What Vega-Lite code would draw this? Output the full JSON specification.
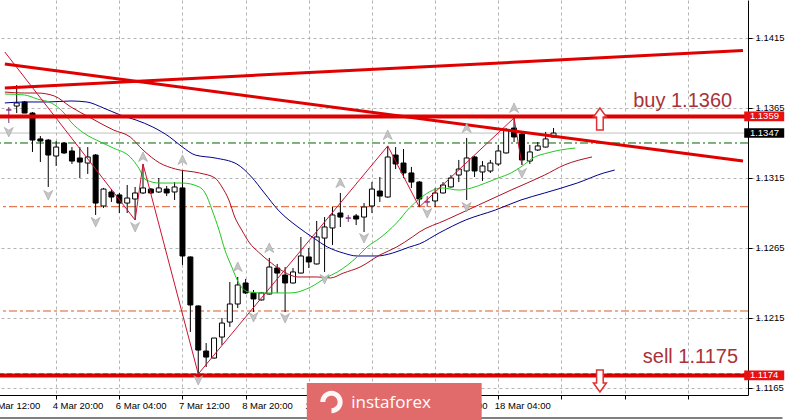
{
  "$schema": "https://vega.github.io/schema/vega-lite/v6.json",
  "width": 748,
  "height": 395,
  "autosize": {"type": "none"},
  "padding": {"left": 0, "top": 0, "right": 40, "bottom": 25},
  "background": "white",
  "config": {
    "view": {"stroke": null},
    "axis": {"labelFont": "Liberation Sans", "labelFontSize": 9.5, "labelColor": "black", "domainColor": "black", "tickColor": "black", "gridColor": "#b4b4b4", "gridDash": [3, 3], "gridWidth": 1}
  },
  "resolve": {"scale": {"shape": "independent"}},
  "datasets": {
    "candles": [
      {"i": -6, "o": 1.13636, "h": 1.13657, "l": 1.13543, "c": 1.13636},
      {"i": -5, "o": 1.13664, "h": 1.13814, "l": 1.13614, "c": 1.13686},
      {"i": -4, "o": 1.13693, "h": 1.13700, "l": 1.13614, "c": 1.13614},
      {"i": -3, "o": 1.13614, "h": 1.13621, "l": 1.13336, "c": 1.13421},
      {"i": -2, "o": 1.13429, "h": 1.13450, "l": 1.13264, "c": 1.13414},
      {"i": -1, "o": 1.13421, "h": 1.13428, "l": 1.13086, "c": 1.13314},
      {"i": 0, "o": 1.13307, "h": 1.13414, "l": 1.13236, "c": 1.13371},
      {"i": 1, "o": 1.13400, "h": 1.13407, "l": 1.13321, "c": 1.13329},
      {"i": 2, "o": 1.13343, "h": 1.13371, "l": 1.13250, "c": 1.13271},
      {"i": 3, "o": 1.13293, "h": 1.13371, "l": 1.13150, "c": 1.13264},
      {"i": 4, "o": 1.13257, "h": 1.13371, "l": 1.13179, "c": 1.13300},
      {"i": 5, "o": 1.13314, "h": 1.13321, "l": 1.12886, "c": 1.12971},
      {"i": 6, "o": 1.12950, "h": 1.13079, "l": 1.12936, "c": 1.13071},
      {"i": 7, "o": 1.13050, "h": 1.13071, "l": 1.12979, "c": 1.13014},
      {"i": 8, "o": 1.13029, "h": 1.13043, "l": 1.12900, "c": 1.12971},
      {"i": 9, "o": 1.12971, "h": 1.13100, "l": 1.12900, "c": 1.13007},
      {"i": 10, "o": 1.13000, "h": 1.13086, "l": 1.12850, "c": 1.13043},
      {"i": 11, "o": 1.13043, "h": 1.13250, "l": 1.13036, "c": 1.13079},
      {"i": 12, "o": 1.13071, "h": 1.13079, "l": 1.13036, "c": 1.13043},
      {"i": 13, "o": 1.13050, "h": 1.13150, "l": 1.13043, "c": 1.13079},
      {"i": 14, "o": 1.13071, "h": 1.13093, "l": 1.13021, "c": 1.13043},
      {"i": 15, "o": 1.13050, "h": 1.13121, "l": 1.12993, "c": 1.13086},
      {"i": 16, "o": 1.13079, "h": 1.13207, "l": 1.12529, "c": 1.12593},
      {"i": 17, "o": 1.12586, "h": 1.12590, "l": 1.12050, "c": 1.12243},
      {"i": 18, "o": 1.12236, "h": 1.12240, "l": 1.11750, "c": 1.11921},
      {"i": 19, "o": 1.11914, "h": 1.11971, "l": 1.11800, "c": 1.11871},
      {"i": 20, "o": 1.11864, "h": 1.12007, "l": 1.11860, "c": 1.12007},
      {"i": 21, "o": 1.12014, "h": 1.12150, "l": 1.11957, "c": 1.12114},
      {"i": 22, "o": 1.12121, "h": 1.12407, "l": 1.12086, "c": 1.12250},
      {"i": 23, "o": 1.12250, "h": 1.12443, "l": 1.12221, "c": 1.12386},
      {"i": 24, "o": 1.12400, "h": 1.12429, "l": 1.12321, "c": 1.12329},
      {"i": 25, "o": 1.12329, "h": 1.12350, "l": 1.12193, "c": 1.12286},
      {"i": 26, "o": 1.12279, "h": 1.12336, "l": 1.12275, "c": 1.12329},
      {"i": 27, "o": 1.12321, "h": 1.12579, "l": 1.12318, "c": 1.12514},
      {"i": 28, "o": 1.12507, "h": 1.12536, "l": 1.12329, "c": 1.12471},
      {"i": 29, "o": 1.12457, "h": 1.12514, "l": 1.12193, "c": 1.12400},
      {"i": 30, "o": 1.12400, "h": 1.12507, "l": 1.12396, "c": 1.12479},
      {"i": 31, "o": 1.12471, "h": 1.12729, "l": 1.12468, "c": 1.12593},
      {"i": 32, "o": 1.12586, "h": 1.12650, "l": 1.12507, "c": 1.12550},
      {"i": 33, "o": 1.12536, "h": 1.12843, "l": 1.12532, "c": 1.12729},
      {"i": 34, "o": 1.12721, "h": 1.12871, "l": 1.12479, "c": 1.12800},
      {"i": 35, "o": 1.12793, "h": 1.12943, "l": 1.12671, "c": 1.12886},
      {"i": 36, "o": 1.12900, "h": 1.13043, "l": 1.12800, "c": 1.12871},
      {"i": 37, "o": 1.12864, "h": 1.12886, "l": 1.12836, "c": 1.12864},
      {"i": 38, "o": 1.12879, "h": 1.12893, "l": 1.12814, "c": 1.12857},
      {"i": 39, "o": 1.12871, "h": 1.12971, "l": 1.12764, "c": 1.12943},
      {"i": 40, "o": 1.12950, "h": 1.13121, "l": 1.12900, "c": 1.13071},
      {"i": 41, "o": 1.13057, "h": 1.13157, "l": 1.12979, "c": 1.13021},
      {"i": 42, "o": 1.13014, "h": 1.13379, "l": 1.13010, "c": 1.13300},
      {"i": 43, "o": 1.13314, "h": 1.13371, "l": 1.13214, "c": 1.13250},
      {"i": 44, "o": 1.13257, "h": 1.13357, "l": 1.13150, "c": 1.13186},
      {"i": 45, "o": 1.13186, "h": 1.13229, "l": 1.13079, "c": 1.13121},
      {"i": 46, "o": 1.13121, "h": 1.13129, "l": 1.12943, "c": 1.13000},
      {"i": 47, "o": 1.12979, "h": 1.13021, "l": 1.12943, "c": 1.12979},
      {"i": 48, "o": 1.12986, "h": 1.13079, "l": 1.12943, "c": 1.13043},
      {"i": 49, "o": 1.13043, "h": 1.13121, "l": 1.13040, "c": 1.13100},
      {"i": 50, "o": 1.13086, "h": 1.13171, "l": 1.13082, "c": 1.13150},
      {"i": 51, "o": 1.13171, "h": 1.13279, "l": 1.13121, "c": 1.13214},
      {"i": 52, "o": 1.13200, "h": 1.13436, "l": 1.12993, "c": 1.13293},
      {"i": 53, "o": 1.13300, "h": 1.13307, "l": 1.13157, "c": 1.13200},
      {"i": 54, "o": 1.13193, "h": 1.13271, "l": 1.13129, "c": 1.13236},
      {"i": 55, "o": 1.13200, "h": 1.13279, "l": 1.13186, "c": 1.13257},
      {"i": 56, "o": 1.13250, "h": 1.13386, "l": 1.13236, "c": 1.13343},
      {"i": 57, "o": 1.13329, "h": 1.13507, "l": 1.13325, "c": 1.13493},
      {"i": 58, "o": 1.13507, "h": 1.13579, "l": 1.13407, "c": 1.13443},
      {"i": 59, "o": 1.13464, "h": 1.13479, "l": 1.13243, "c": 1.13279},
      {"i": 60, "o": 1.13271, "h": 1.13386, "l": 1.13250, "c": 1.13336},
      {"i": 61, "o": 1.13350, "h": 1.13407, "l": 1.13343, "c": 1.13379},
      {"i": 62, "o": 1.13371, "h": 1.13479, "l": 1.13368, "c": 1.13429},
      {"i": 63, "o": 1.13443, "h": 1.13507, "l": 1.13440, "c": 1.13471}
    ],
    "ma": [
      {"s": "slow", "i": -6.5, "p": 1.13686}, {"s": "slow", "i": -4, "p": 1.13693}, {"s": "slow", "i": -1.125, "p": 1.13693}, {"s": "slow", "i": 1.875, "p": 1.13700}, {"s": "slow", "i": 3.875, "p": 1.13693}, {"s": "slow", "i": 6, "p": 1.13650}, {"s": "slow", "i": 8.125, "p": 1.13600}, {"s": "slow", "i": 10.125, "p": 1.13564}, {"s": "slow", "i": 12.25, "p": 1.13514}, {"s": "slow", "i": 14.375, "p": 1.13443}, {"s": "slow", "i": 16, "p": 1.13371}, {"s": "slow", "i": 17.625, "p": 1.13314}, {"s": "slow", "i": 20.125, "p": 1.13293}, {"s": "slow", "i": 22.875, "p": 1.13250}, {"s": "slow", "i": 24.75, "p": 1.13157}, {"s": "slow", "i": 26.375, "p": 1.13043}, {"s": "slow", "i": 28.125, "p": 1.12921}, {"s": "slow", "i": 30.625, "p": 1.12800}, {"s": "slow", "i": 32.625, "p": 1.12721}, {"s": "slow", "i": 34.375, "p": 1.12657}, {"s": "slow", "i": 36.375, "p": 1.12614}, {"s": "slow", "i": 38.125, "p": 1.12593}, {"s": "slow", "i": 40.625, "p": 1.12593}, {"s": "slow", "i": 42.625, "p": 1.12614}, {"s": "slow", "i": 44.75, "p": 1.12657}, {"s": "slow", "i": 46, "p": 1.12679}, {"s": "slow", "i": 48.5, "p": 1.12757}, {"s": "slow", "i": 51.875, "p": 1.12850}, {"s": "slow", "i": 55.625, "p": 1.12921}, {"s": "slow", "i": 58.875, "p": 1.12993}, {"s": "slow", "i": 61.875, "p": 1.13043}, {"s": "slow", "i": 66, "p": 1.13114}, {"s": "slow", "i": 69.375, "p": 1.13186}, {"s": "slow", "i": 70.75, "p": 1.13207},
      {"s": "mid", "i": -6.5, "p": 1.13764}, {"s": "mid", "i": -4, "p": 1.13757}, {"s": "mid", "i": -2.375, "p": 1.13757}, {"s": "mid", "i": -0.25, "p": 1.13736}, {"s": "mid", "i": 1.875, "p": 1.13657}, {"s": "mid", "i": 4.375, "p": 1.13579}, {"s": "mid", "i": 7.25, "p": 1.13493}, {"s": "mid", "i": 9.375, "p": 1.13443}, {"s": "mid", "i": 11, "p": 1.13350}, {"s": "mid", "i": 13.125, "p": 1.13257}, {"s": "mid", "i": 15.125, "p": 1.13214}, {"s": "mid", "i": 18.125, "p": 1.13186}, {"s": "mid", "i": 20.125, "p": 1.13150}, {"s": "mid", "i": 21, "p": 1.13086}, {"s": "mid", "i": 21.875, "p": 1.12993}, {"s": "mid", "i": 22.625, "p": 1.12871}, {"s": "mid", "i": 23.5, "p": 1.12779}, {"s": "mid", "i": 24.5, "p": 1.12686}, {"s": "mid", "i": 25.625, "p": 1.12621}, {"s": "mid", "i": 27.25, "p": 1.12543}, {"s": "mid", "i": 28.875, "p": 1.12479}, {"s": "mid", "i": 30.625, "p": 1.12443}, {"s": "mid", "i": 33.125, "p": 1.12443}, {"s": "mid", "i": 34.75, "p": 1.12436}, {"s": "mid", "i": 36.375, "p": 1.12471}, {"s": "mid", "i": 38.5, "p": 1.12514}, {"s": "mid", "i": 41, "p": 1.12600}, {"s": "mid", "i": 43.125, "p": 1.12657}, {"s": "mid", "i": 45.125, "p": 1.12729}, {"s": "mid", "i": 46, "p": 1.12764}, {"s": "mid", "i": 49.375, "p": 1.12850}, {"s": "mid", "i": 53.5, "p": 1.12957}, {"s": "mid", "i": 57.625, "p": 1.13064}, {"s": "mid", "i": 61.875, "p": 1.13171}, {"s": "mid", "i": 64.375, "p": 1.13243}, {"s": "mid", "i": 67.875, "p": 1.13300},
      {"s": "fast", "i": -6.5, "p": 1.13750}, {"s": "fast", "i": -4, "p": 1.13743}, {"s": "fast", "i": -2.375, "p": 1.13714}, {"s": "fast", "i": -0.625, "p": 1.13686}, {"s": "fast", "i": 1, "p": 1.13614}, {"s": "fast", "i": 1.875, "p": 1.13550}, {"s": "fast", "i": 3.5, "p": 1.13471}, {"s": "fast", "i": 5.625, "p": 1.13407}, {"s": "fast", "i": 7.25, "p": 1.13364}, {"s": "fast", "i": 9.375, "p": 1.13300}, {"s": "fast", "i": 10.375, "p": 1.13229}, {"s": "fast", "i": 11.375, "p": 1.13136}, {"s": "fast", "i": 13.125, "p": 1.13114}, {"s": "fast", "i": 16, "p": 1.13114}, {"s": "fast", "i": 18.125, "p": 1.13086}, {"s": "fast", "i": 18.875, "p": 1.13043}, {"s": "fast", "i": 19.75, "p": 1.12921}, {"s": "fast", "i": 20.625, "p": 1.12779}, {"s": "fast", "i": 21.375, "p": 1.12636}, {"s": "fast", "i": 22.25, "p": 1.12514}, {"s": "fast", "i": 23.125, "p": 1.12400}, {"s": "fast", "i": 24.375, "p": 1.12336}, {"s": "fast", "i": 26.375, "p": 1.12329}, {"s": "fast", "i": 29.75, "p": 1.12329}, {"s": "fast", "i": 32.25, "p": 1.12371}, {"s": "fast", "i": 34.125, "p": 1.12436}, {"s": "fast", "i": 35.625, "p": 1.12479}, {"s": "fast", "i": 38.125, "p": 1.12586}, {"s": "fast", "i": 39.375, "p": 1.12657}, {"s": "fast", "i": 41, "p": 1.12721}, {"s": "fast", "i": 43.125, "p": 1.12829}, {"s": "fast", "i": 44.75, "p": 1.12936}, {"s": "fast", "i": 46, "p": 1.13000}, {"s": "fast", "i": 47.25, "p": 1.13050}, {"s": "fast", "i": 48.875, "p": 1.13079}, {"s": "fast", "i": 51, "p": 1.13064}, {"s": "fast", "i": 52.625, "p": 1.13079}, {"s": "fast", "i": 54.375, "p": 1.13114}, {"s": "fast", "i": 56, "p": 1.13150}, {"s": "fast", "i": 57.625, "p": 1.13186}, {"s": "fast", "i": 58.875, "p": 1.13229}, {"s": "fast", "i": 60.625, "p": 1.13300}, {"s": "fast", "i": 62.25, "p": 1.13329}, {"s": "fast", "i": 63.875, "p": 1.13350}, {"s": "fast", "i": 65.75, "p": 1.13364}
    ],
    "zz": [
      {"i": -6.5, "p": 1.14050}, {"i": 10, "p": 1.12850}, {"i": 11, "p": 1.13250}, {"i": 18, "p": 1.11750}, {"i": 42, "p": 1.13379}, {"i": 46, "p": 1.12943}, {"i": 58, "p": 1.13579}, {"i": 59, "p": 1.13243}
    ],
    "fractals": [
      {"i": -6, "p": 1.13479, "dir": "down"}, {"i": -1, "p": 1.13029, "dir": "down"}, {"i": 5, "p": 1.12836, "dir": "down"}, {"i": 10, "p": 1.12800, "dir": "down"}, {"i": 18, "p": 1.11707, "dir": "down"}, {"i": 25, "p": 1.12157, "dir": "down"}, {"i": 29, "p": 1.12150, "dir": "down"}, {"i": 34, "p": 1.12429, "dir": "down"}, {"i": 39, "p": 1.12721, "dir": "down"}, {"i": 47, "p": 1.12900, "dir": "down"}, {"i": 52, "p": 1.12943, "dir": "down"}, {"i": 59, "p": 1.13186, "dir": "down"},
      {"i": 11, "p": 1.13300, "dir": "up"}, {"i": 16, "p": 1.13279, "dir": "up"}, {"i": 23, "p": 1.12514, "dir": "up"}, {"i": 27, "p": 1.12650, "dir": "up"}, {"i": 36, "p": 1.13114, "dir": "up"}, {"i": 42, "p": 1.13457, "dir": "up"}, {"i": 52, "p": 1.13507, "dir": "up"}, {"i": 58, "p": 1.13650, "dir": "up"}
    ],
    "trend": [
      {"name": "down", "i": -6.5, "p": 1.13964}, {"name": "down", "i": 87, "p": 1.13271},
      {"name": "up", "i": -6.5, "p": 1.13793}, {"name": "up", "i": 87, "p": 1.14060}
    ],
    "orange": [{"p": 1.12945}, {"p": 1.12200}],
    "greenlvl": [{"p": 1.13400}],
    "bid": [{"p": 1.13471}],
    "levels": [{"p": 1.13590}, {"p": 1.11740}],
    "selldash": [{"p": 1.11750}],
    "notes": [
      {"text": "buy 1.1360", "i": 85.625, "p": 1.13657},
      {"text": "sell 1.1175", "i": 86.375, "p": 1.11829}
    ],
    "arrows": [
      {"dir": "buy", "i": 68.875, "p": 1.13571},
      {"dir": "sell", "i": 68.875, "p": 1.11700}
    ],
    "tags": [
      {"label": "1.1359", "p": 1.13590},
      {"label": "1.1347", "p": 1.13471},
      {"label": "1.1174", "p": 1.11740}
    ]
  },
  "layer": [
    {
      "data": {"name": "orange"},
      "mark": {"type": "rule", "color": "#DA5A2A", "strokeWidth": 1, "strokeDash": [8, 3, 3, 3]},
      "encoding": {
        "y": {
          "field": "p", "type": "quantitative", "title": null,
          "scale": {"domain": [1.116, 1.144214], "nice": false, "zero": false},
          "axis": {"orient": "right", "values": [1.1165, 1.119, 1.1215, 1.124, 1.1265, 1.129, 1.1315, 1.134, 1.1365, 1.139, 1.1415, 1.144], "format": ".4f", "tickSize": 4, "labelPadding": 3, "grid": true, "domain": true, "labelOverlap": false, "labelFlush": false}
        }
      }
    },
    {
      "data": {"name": "greenlvl"},
      "mark": {"type": "rule", "color": "#006400", "strokeWidth": 1, "strokeDash": [8, 3, 2, 3]},
      "encoding": {"y": {"field": "p", "type": "quantitative", "title": null}}
    },
    {
      "data": {"name": "bid"},
      "mark": {"type": "rule", "color": "#c0c0c0", "strokeWidth": 1},
      "encoding": {"y": {"field": "p", "type": "quantitative", "title": null}}
    },
    {
      "data": {"name": "candles"},
      "mark": {"type": "rule", "strokeWidth": 1},
      "encoding": {
        "x": {
          "field": "i", "type": "quantitative", "title": null,
          "scale": {"domain": [-8, 87], "range": [-12, 748], "nice": false, "zero": false},
          "axis": {
            "orient": "bottom",
            "values": [-8, -4, 0, 4, 8, 12, 16, 20, 24, 28, 32, 36, 40, 44, 48, 52, 56, 60, 64, 68, 72, 76, 80, 84],
            "labelExpr": "datum.value == -8 ? '1 Mar 12:00' : datum.value == 0 ? '4 Mar 20:00' : datum.value == 8 ? '6 Mar 04:00' : datum.value == 16 ? '7 Mar 12:00' : datum.value == 24 ? '8 Mar 20:00' : datum.value == 32 ? '12 Mar 04:00' : datum.value == 40 ? '13 Mar 12:00' : datum.value == 48 ? '14 Mar 20:00' : datum.value == 56 ? '18 Mar 04:00' : ''",
            "labelAlign": "left", "labelBaseline": "top", "labelPadding": 1, "labelOffset": -4, "tickSize": 4,
            "labelFlush": false, "labelOverlap": false, "grid": true, "domain": true
          }
        },
        "y": {"field": "l", "type": "quantitative", "title": null},
        "y2": {"field": "h"},
        "color": {"condition": {"test": "datum.o == datum.c", "value": "#803080"}, "value": "black"}
      }
    },
    {
      "data": {"name": "candles"},
      "mark": {"type": "bar", "width": 5, "strokeWidth": 1},
      "encoding": {
        "x": {"field": "i", "type": "quantitative", "title": null},
        "y": {"field": "o", "type": "quantitative", "title": null},
        "y2": {"field": "c"},
        "fill": {"condition": {"test": "datum.c >= datum.o", "value": "white"}, "value": "black"},
        "stroke": {"condition": {"test": "datum.o == datum.c", "value": "#803080"}, "value": "black"}
      }
    },
    {
      "data": {"name": "ma"},
      "mark": {"type": "line", "strokeWidth": 1, "interpolate": "monotone"},
      "encoding": {
        "x": {"field": "i", "type": "quantitative", "title": null},
        "y": {"field": "p", "type": "quantitative", "title": null},
        "color": {"field": "s", "type": "nominal", "scale": {"domain": ["slow", "mid", "fast"], "range": ["#00008B", "#B01020", "#22C822"]}, "legend": null}
      }
    },
    {
      "data": {"name": "zz"},
      "mark": {"type": "line", "strokeWidth": 1, "color": "#D01030", "clip": true},
      "encoding": {
        "x": {"field": "i", "type": "quantitative", "title": null},
        "y": {"field": "p", "type": "quantitative", "title": null}
      }
    },
    {
      "data": {"name": "trend"},
      "mark": {"type": "line", "strokeWidth": 3, "color": "#E00000", "clip": true},
      "encoding": {
        "x": {"field": "i", "type": "quantitative", "title": null},
        "y": {"field": "p", "type": "quantitative", "title": null},
        "detail": {"field": "name"}
      }
    },
    {
      "data": {"name": "levels"},
      "mark": {"type": "rule", "color": "#E00000", "strokeWidth": 4},
      "encoding": {"y": {"field": "p", "type": "quantitative", "title": null}}
    },
    {
      "data": {"name": "selldash"},
      "mark": {"type": "rule", "color": "#7a0000", "strokeWidth": 1.2, "strokeDash": [5, 3], "opacity": 0.8},
      "encoding": {"y": {"field": "p", "type": "quantitative", "title": null}}
    },
    {
      "data": {"name": "fractals"},
      "mark": {"type": "point", "filled": true, "size": 100, "fill": "#c4c4c4", "stroke": "#9a9a9a", "strokeWidth": 0.6, "opacity": 0.95},
      "encoding": {
        "x": {"field": "i", "type": "quantitative", "title": null},
        "y": {"field": "p", "type": "quantitative", "title": null},
        "shape": {"field": "dir", "type": "nominal", "scale": {"domain": ["up", "down"], "range": ["M0,-1L0.9,0.9L0,0.35L-0.9,0.9Z", "M0,1L0.9,-0.9L0,-0.35L-0.9,-0.9Z"]}, "legend": null}
      }
    },
    {
      "data": {"name": "arrows"},
      "mark": {"type": "point", "filled": true, "size": 484, "fill": "white", "stroke": "#E03030", "strokeWidth": 1.5, "opacity": 1},
      "encoding": {
        "x": {"field": "i", "type": "quantitative", "title": null},
        "y": {"field": "p", "type": "quantitative", "title": null},
        "shape": {"field": "dir", "type": "nominal", "scale": {"domain": ["buy", "sell"], "range": ["M0,-1L0.59,-0.18L0.3,-0.18L0.3,1L-0.3,1L-0.3,-0.18L-0.59,-0.18Z", "M0,1L0.59,0.18L0.3,0.18L0.3,-1L-0.3,-1L-0.3,0.18L-0.59,0.18Z"]}, "legend": null}
      }
    },
    {
      "data": {"name": "notes"},
      "mark": {"type": "text", "align": "right", "baseline": "alphabetic", "font": "Liberation Sans", "fontSize": 20, "color": "#A8323A"},
      "encoding": {
        "x": {"field": "i", "type": "quantitative", "title": null},
        "y": {"field": "p", "type": "quantitative", "title": null},
        "text": {"field": "text"}
      }
    },
    {
      "data": {"name": "tags"},
      "mark": {"type": "point", "filled": true, "size": 1600, "shape": "M-1,-0.24L1,-0.24L1,0.24L-1,0.24Z", "opacity": 1, "strokeWidth": 0},
      "encoding": {
        "x": {"datum": 89.6875, "type": "quantitative"},
        "y": {"field": "p", "type": "quantitative", "title": null},
        "fill": {"condition": {"test": "datum.label == '1.1347'", "value": "black"}, "value": "#E81010"}
      }
    },
    {
      "data": {"name": "tags"},
      "mark": {"type": "text", "align": "left", "baseline": "middle", "font": "Liberation Sans", "fontSize": 9.5, "color": "white"},
      "encoding": {
        "x": {"datum": 87.875, "type": "quantitative"},
        "y": {"field": "p", "type": "quantitative", "title": null},
        "text": {"field": "label"}
      }
    },
    {
      "data": {"values": [{}]},
      "mark": {"type": "rule", "color": "black", "strokeWidth": 1},
      "encoding": {
        "x": {"datum": -8, "type": "quantitative"},
        "x2": {"datum": 92},
        "y": {"datum": 1.114357, "type": "quantitative"}
      }
    },
    {
      "data": {"values": [{}]},
      "mark": {"type": "rect", "color": "#E16B6B"},
      "encoding": {
        "x": {"datum": 31.75, "type": "quantitative"},
        "x2": {"datum": 53.9},
        "y": {"datum": 1.11686, "type": "quantitative"},
        "y2": {"datum": 1.1142}
      }
    },
    {
      "data": {"values": [{}]},
      "mark": {"type": "point", "filled": true, "size": 500, "color": "white", "opacity": 0.95, "shape": "M-1,0A1,1 0 1,1 0,1L0,0.55A0.55,0.55 0 1,0 -0.55,0Z"},
      "encoding": {
        "x": {"datum": 34.875, "type": "quantitative"},
        "y": {"datum": 1.1155, "type": "quantitative"}
      }
    },
    {
      "data": {"values": [{"t": "instaforex"}]},
      "mark": {"type": "text", "align": "left", "baseline": "middle", "font": "Open Sans", "fontSize": 17, "color": "white"},
      "encoding": {
        "x": {"datum": 37.375, "type": "quantitative"},
        "y": {"datum": 1.11543, "type": "quantitative"},
        "text": {"field": "t"}
      }
    }
  ]
}
